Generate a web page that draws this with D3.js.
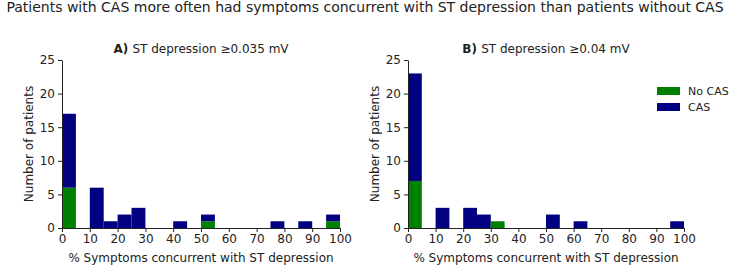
<!DOCTYPE html>
<html>
<head>
<meta charset="utf-8">
<script src="https://cdn.jsdelivr.net/npm/d3@7"></script>
<style>
  body { margin: 0; background: white; }
  svg { display: block; font-family: "DejaVu Sans", sans-serif; }
</style>
</head>
<body>
<svg id="chart"></svg>
<script>
// bins of 5 % from 0 to 100
const binStarts = d3.range(0, 100, 5)
const xTicks = [0, 10, 20, 30, 40, 50, 60, 70, 80, 90, 100]
const yTicks = [0, 5, 10, 15, 20, 25]

// panel A: ST depression >= 0.035 mV
const noCasA = [6, 0, 0, 0, 0, 0, 0, 0, 0, 0, 1, 0, 0, 0, 0, 0, 0, 0, 0, 1]
const casA   = [11, 0, 6, 1, 2, 3, 0, 0, 1, 0, 1, 0, 0, 0, 0, 1, 0, 1, 0, 1]
// panel B: ST depression >= 0.04 mV
const noCasB = [7, 0, 0, 0, 0, 0, 1, 0, 0, 0, 0, 0, 0, 0, 0, 0, 0, 0, 0, 0]
const casB   = [16, 0, 3, 0, 3, 2, 0, 0, 0, 0, 2, 0, 1, 0, 0, 0, 0, 0, 0, 1]

const width = 730, height = 266
const svg = d3.select("#chart").attr("width", width).attr("height", height)

svg.append("text")
    .attr("x", width / 2).attr("y", 12)
    .attr("text-anchor", "middle")
    .style("font-size", "14px")
    .attr("fill", "#222")
    .text("Patients with CAS more often had symptoms concurrent with ST depression than patients without CAS")

const colors = { noCas: "#008000", cas: "#000080" }

function drawPanel(left, right, letter, title, noCas, cas, legend) {
    const top = 60, bottom = 228
    const x = d3.scaleLinear().domain([0, 100]).range([left, right])
    const y = d3.scaleLinear().domain([0, 25]).range([bottom, top])
    const g = svg.append("g")

    // stacked bars
    binStarts.forEach((b, i) => {
        if (noCas[i] > 0) {
            g.append("rect")
                .attr("x", x(b)).attr("width", x(b + 5) - x(b))
                .attr("y", y(noCas[i])).attr("height", y(0) - y(noCas[i]))
                .attr("fill", colors.noCas)
        }
        if (cas[i] > 0) {
            g.append("rect")
                .attr("x", x(b)).attr("width", x(b + 5) - x(b))
                .attr("y", y(noCas[i] + cas[i])).attr("height", y(noCas[i]) - y(noCas[i] + cas[i]))
                .attr("fill", colors.cas)
        }
    })

    const xAxis = g.append("g").attr("transform", `translate(0,${bottom})`)
        .call(d3.axisBottom(x).tickValues(xTicks).tickSize(4).tickPadding(2).tickSizeOuter(0))
    const yAxis = g.append("g").attr("transform", `translate(${left},0)`)
        .call(d3.axisLeft(y).tickValues(yTicks).tickSize(4).tickPadding(3).tickSizeOuter(0))
    ;[xAxis, yAxis].forEach(a => {
        a.selectAll("text").style("font-size", "12px").style("font-family", "DejaVu Sans").attr("fill", "#222")
        a.selectAll("line, path").attr("stroke", "#222")
    })

    const t = g.append("text")
        .attr("x", (left + right) / 2).attr("y", 53)
        .attr("text-anchor", "middle")
        .attr("fill", "#222")
        .style("font-size", "12px")
    t.append("tspan").style("font-weight", "bold").text(letter + ") ")
    t.append("tspan").text(title)

    g.append("text")
        .attr("x", (left + right) / 2).attr("y", 262)
        .attr("text-anchor", "middle")
        .attr("fill", "#222")
        .style("font-size", "12px")
        .text("% Symptoms concurrent with ST depression")

    g.append("text")
        .attr("transform", `translate(${left - 29},${(top + bottom) / 2}) rotate(-90)`)
        .attr("text-anchor", "middle")
        .attr("fill", "#222")
        .style("font-size", "12px")
        .text("Number of patients")

    if (legend) {
        const items = [["No CAS", colors.noCas], ["CAS", colors.cas]]
        items.forEach((d, i) => {
            const ly = 87 + i * 16
            g.append("rect").attr("x", 657).attr("y", ly).attr("width", 23).attr("height", 8).attr("fill", d[1])
            g.append("text").attr("x", 688).attr("y", ly + 8).attr("fill", "#222")
                .style("font-size", "11px").text(d[0])
        })
    }
}

drawPanel(62, 340, "A", "ST depression \u22650.035 mV", noCasA, casA, false)
drawPanel(408, 684, "B", "ST depression \u22650.04 mV", noCasB, casB, true)
</script>
</body>
</html>
